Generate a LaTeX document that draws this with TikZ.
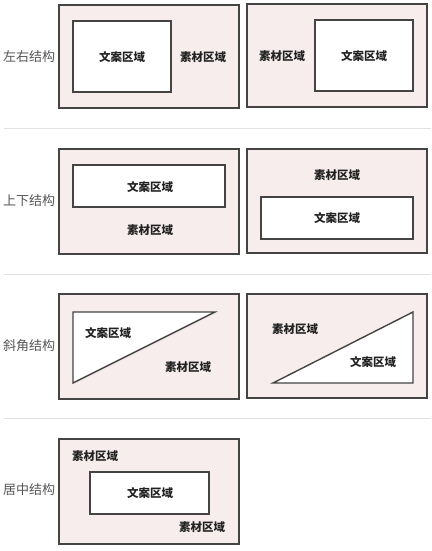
\documentclass[tikz,border=0pt]{standalone}
\usepackage{fontspec}
\newfontfamily\cjk{Noto Sans CJK SC}
\definecolor{bgpink}{HTML}{F8EDED}
\definecolor{edge}{HTML}{444444}
\definecolor{sep}{HTML}{E2E2E2}
\definecolor{lab}{HTML}{555555}
\definecolor{txt}{HTML}{222222}
\tikzset{
  outerbox/.style={draw=edge,fill=bgpink,line width=1.4pt},
  innerbox/.style={draw=edge,fill=white,line width=1.4pt},
  sepline/.style={draw=sep,line width=1pt},
  region/.style={font=\cjk\bfseries\fontsize{11.5}{13}\selectfont,text=txt,inner sep=0pt},
  rowlabel/.style={font=\cjk\fontsize{13}{15}\selectfont,text=lab,inner sep=0pt}
}
\begin{document}
\begin{tikzpicture}[x=1pt,y=-1pt]
\useasboundingbox (0,0) rectangle (431,551);
% separators
\coordinate (s1a) at (4,128); \coordinate (s1b) at (431,128);
\coordinate (s2a) at (4,274); \coordinate (s2b) at (431,274);
\coordinate (s3a) at (4,418); \coordinate (s3b) at (431,418);
\draw[sepline] (s1a) -- (s1b);
\draw[sepline] (s2a) -- (s2b);
\draw[sepline] (s3a) -- (s3b);
% row 1
\node[rowlabel] (l1) at (29,57) {左右结构};
\draw[outerbox] (59,5) rectangle (239,108);
\draw[innerbox] (73,21) rectangle (171,92);
\node[region] (r1a) at (122,57) {文案区域};
\node[region] (r1b) at (203,57) {素材区域};
\draw[outerbox] (247,4) rectangle (427,107);
\draw[innerbox] (315,20) rectangle (413,91);
\node[region] (r1c) at (364,56) {文案区域};
\node[region] (r1d) at (282,56) {素材区域};
% row 2
\node[rowlabel] (l2) at (29,201) {上下结构};
\draw[outerbox] (59,149) rectangle (239,254);
\draw[innerbox] (73,165) rectangle (225,207);
\node[region] (r2a) at (150,187) {文案区域};
\node[region] (r2b) at (150,230) {素材区域};
\draw[outerbox] (247,149) rectangle (427,253);
\draw[innerbox] (261,197) rectangle (413,239);
\node[region] (r2c) at (337,175) {素材区域};
\node[region] (r2d) at (337,218) {文案区域};
% row 3
\node[rowlabel] (l3) at (29,346) {斜角结构};
\draw[outerbox] (59,294) rectangle (239,399);
\draw[innerbox,line join=miter] (73,312) -- (215,312) -- (73,383) -- cycle;
\node[region] (r3a) at (108,333) {文案区域};
\node[region] (r3b) at (188,367) {素材区域};
\draw[outerbox] (247,294) rectangle (427,398);
\draw[innerbox,line join=miter] (413,312) -- (413,383) -- (273,383) -- cycle;
\node[region] (r3c) at (295,329) {素材区域};
\node[region] (r3d) at (373,362) {文案区域};
% row 4
\node[rowlabel] (l4) at (29,490) {居中结构};
\draw[outerbox] (59,439) rectangle (239,544);
\draw[innerbox] (90,472) rectangle (209,514);
\node[region] (r4a) at (150,493) {文案区域};
\node[region] (r4b) at (95,456) {素材区域};
\node[region] (r4c) at (202,527) {素材区域};
\end{tikzpicture}
\end{document}
